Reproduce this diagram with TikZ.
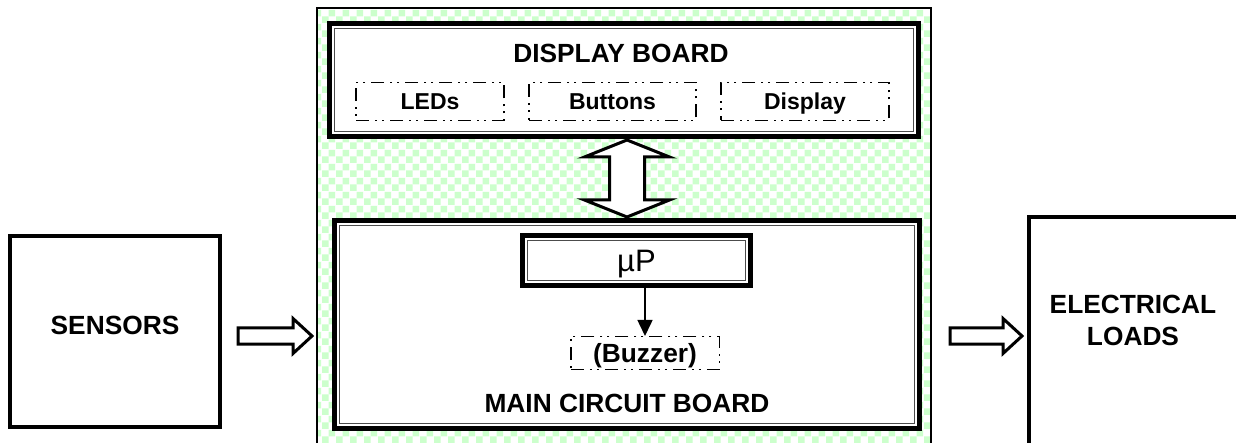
\documentclass[tikz,border=0pt]{standalone}
\usepackage{fontspec}
\setmainfont{Liberation Sans}
\usetikzlibrary{arrows.meta,patterns.meta}
\definecolor{checkgreen}{RGB}{204,255,204}
\tikzdeclarepattern{
  name=greenchecks,
  type=uncolored,
  bottom left={(0pt,0pt)},
  top right={(14pt,14pt)},
  tile size={(14pt,14pt)},
  code={\fill (0pt,0pt) rectangle (7pt,7pt); \fill (7pt,7pt) rectangle (14pt,14pt);}
}
\begin{document}
\begin{tikzpicture}[x=1pt, y=-1pt,
    board/.style={draw, line width=5, fill=white, inner sep=0, outer sep=0},
    plainbox/.style={draw, line width=4, fill=white, inner sep=0, outer sep=0},
    innerline/.style={line width=1, black!70},
    subbox/.style={draw, line width=1.5, dash pattern=on 13pt off 6pt on 2pt off 5pt on 2pt off 6pt,
                   inner sep=0, text depth=0pt, font=\bfseries\fontsize{23}{28}\selectfont},
    title/.style={font=\bfseries\fontsize{26.3}{32}\selectfont, inner sep=0, align=center},
    blockarrow/.style={draw, fill=white, line width=3, line join=miter}]
\useasboundingbox (0,0) rectangle (1236,443);
\clip (0,0) rectangle (1236,443);
% checkered frame round the two boards
\fill[white] (317,8) rectangle (931,460);
\fill[pattern=greenchecks, pattern color=checkgreen] (317,8) rectangle (931,460);
\draw[line width=2] (317,8) rectangle (931,460);
% boards
\node[board, minimum width=589, minimum height=113] (db) at (624,80) {};
\node[board, minimum width=585, minimum height=208] (mb) at (627,324.5) {};
\node[board, minimum width=228, minimum height=50, text depth=0pt,
      font=\fontsize{31}{36}\selectfont] (mp) at (636.5,260.5) {µP};
\foreach \n in {db, mb, mp}
    \draw[innerline] ([shift={(5,5)}]\n.north west) rectangle ([shift={(-5,-5)}]\n.south east);
\node[title] (dbtitle) at (621,53) {DISPLAY BOARD};
\node[title] (mbtitle) at (627,403) {MAIN CIRCUIT BOARD};
\foreach \n/\x/\w/\t in {leds/430/148/LEDs, buttons/612.5/167/Buttons, display/805/168/Display}
    \node[subbox, minimum width=\w, minimum height=38] (\n) at (\x,101.5) {\t};
\node[subbox, minimum width=148.5, minimum height=32.5,
      font=\bfseries\fontsize{26.3}{32}\selectfont] (bz) at (645,353) {(Buzzer)};
\draw[line width=1.5, -{Triangle[length=16pt,width=15pt]}] (mp.south -| bz.north) -- (bz.north);
% outside blocks
\node[plainbox, minimum width=210, minimum height=191] (sensors) at (115,331.5) {};
\node[title] (senstitle) at (115,325) {SENSORS};
\node[plainbox, minimum width=260, minimum height=250] (loads) at (1159,342) {};
\node[title] (loadstitle) at (1133,320.5) {ELECTRICAL\\LOADS};
% block arrows
\coordinate (dtop) at (627,140);
\draw[blockarrow] (dtop) -- ++(42.5,17) -- ++(-25,0) -- ++(0,43) -- ++(25,0) -- ++(-42.5,17)
    -- ++(-42.5,-17) -- ++(25,0) -- ++(0,-43) -- ++(-25,0) -- cycle;
\foreach \x/\l in {238/55, 950/53}
    \draw[blockarrow] (\x,336) ++(0,-8) -- ++(\l,0) -- ++(0,-9.5) -- ++(19,17.5)
        -- ++(-19,17.5) -- ++(0,-9.5) -- ++(-\l,0) -- cycle;
\end{tikzpicture}
\end{document}
